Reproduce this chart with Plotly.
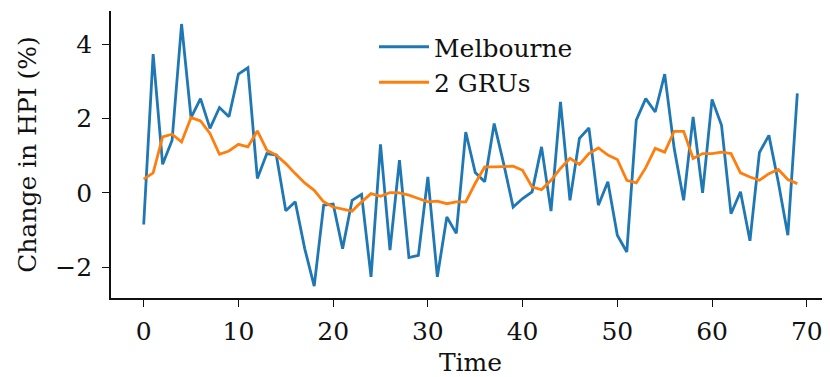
import plotly.graph_objects as go

time = list(range(70))
melbourne = [-0.85, 3.74, 0.77, 1.42, 4.55, 2.03, 2.54, 1.74, 2.30, 2.05,
             3.20, 3.37, 0.39, 1.06, 1.02, -0.48, -0.24, -1.50, -2.51, -0.33,
             -0.30, -1.50, -0.20, -0.04, -2.26, 1.31, -1.54, 0.88, -1.74, -1.68,
             0.43, -2.26, -0.65, -1.09, 1.64, 0.55, 0.30, 1.87, 0.79, -0.38,
             -0.15, 0.03, 1.24, -0.49, 2.45, -0.20, 1.47, 1.75, -0.33, 0.30,
             -1.14, -1.59, 1.96, 2.54, 2.18, 3.20, 1.20, -0.20, 2.05, 0.00,
             2.52, 1.82, -0.56, 0.03, -1.29, 1.09, 1.55, 0.28, -1.14, 2.68]
grus = [0.37, 0.54, 1.51, 1.58, 1.37, 2.03, 1.94, 1.60, 1.04, 1.13,
        1.31, 1.24, 1.67, 1.15, 1.02, 0.79, 0.52, 0.27, 0.07, -0.24,
        -0.38, -0.44, -0.49, -0.24, -0.02, -0.09, 0.01, 0.00, -0.06, -0.15,
        -0.24, -0.22, -0.29, -0.24, -0.24, 0.26, 0.70, 0.70, 0.72, 0.72,
        0.61, 0.16, 0.09, 0.34, 0.66, 0.93, 0.77, 1.06, 1.21, 1.02,
        0.90, 0.34, 0.27, 0.68, 1.20, 1.10, 1.66, 1.66, 0.93, 1.06,
        1.06, 1.10, 1.06, 0.54, 0.43, 0.34, 0.52, 0.63, 0.36, 0.25]

x_ticks = [0, 10, 20, 30, 40, 50, 60, 70]
y_ticks = [-2, 0, 2, 4]

FONT = "DejaVu Serif"
FS = 25

fig = go.Figure()
fig.add_trace(go.Scatter(x=time, y=melbourne, mode="lines", name="Melbourne",
                         line=dict(color="#1f77b4", width=2.8)))
fig.add_trace(go.Scatter(x=time, y=grus, mode="lines", name="2 GRUs",
                         line=dict(color="#ff7f0e", width=2.8)))

fig.update_layout(
    width=822, height=369,
    margin=dict(l=103, r=0, t=3, b=79),
    paper_bgcolor="white", plot_bgcolor="white",
    font=dict(family=FONT, size=FS, color="#111"),
    showlegend=True,
    legend=dict(x=(366 - 103) / 719, y=(287 - 13) / 287, xanchor="left", yanchor="top",
                bgcolor="rgba(0,0,0,0)", borderwidth=0,
                font=dict(family=FONT, size=FS, color="#111"),
                itemwidth=50),
)
fig.update_xaxes(
    range=[-3.45, 72.45], tickvals=x_ticks, ticktext=[str(v) for v in x_ticks],
    showgrid=False, zeroline=False, showline=True, linecolor="#111", linewidth=1.6,
    ticks="outside", ticklen=7, tickwidth=1.4, tickcolor="#111",
    tickfont=dict(family=FONT, size=FS, color="#111"), ticklabelstandoff=3,
    title=dict(text="Time", font=dict(family=FONT, size=FS, color="#111"), standoff=9),
    automargin=False,
)
fig.update_yaxes(
    range=[-2.83, 4.9], tickvals=y_ticks,
    showgrid=False, zeroline=False, showline=True, linecolor="#111", linewidth=1.6,
    ticks="outside", ticklen=7, tickwidth=1.4, tickcolor="#111",
    tickfont=dict(family=FONT, size=FS, color="#111"), ticklabelstandoff=5,
    title=dict(text="Change in HPI (%)", font=dict(family=FONT, size=FS, color="#111"), standoff=12),
    automargin=False,
)

fig.write_html("out.html")
